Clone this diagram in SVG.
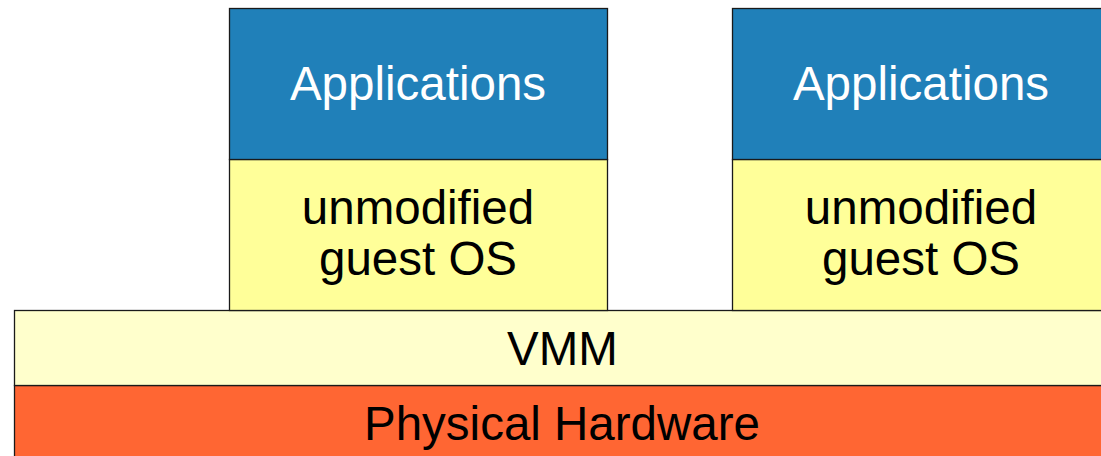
<svg xmlns="http://www.w3.org/2000/svg" width="1101" height="456" viewBox="0 0 1101 456">
<style>
.box{stroke:#1a1a1a;stroke-width:1.3}
.app{fill:#2080b9}
.os{fill:#ffff99}
.vmm{fill:#ffffcc}
.hw{fill:#ff6633}
text{font-family:"Liberation Sans",Arial,sans-serif;font-size:47.5px;text-anchor:middle}
.w{fill:#ffffff}
.k{fill:#000000}
</style>
<rect width="1101" height="456" fill="#ffffff"/>
<g id="hw">
<rect class="box hw" x="14.5" y="385.5" width="1100" height="90"/>
<text class="k" x="562" y="440">Physical Hardware</text>
</g>
<g id="vmm">
<rect class="box vmm" x="14.5" y="310.5" width="1100" height="75"/>
<text class="k" x="562.5" y="364.5">VMM</text>
</g>
<g id="os1">
<rect class="box os" x="229.5" y="159.5" width="378" height="151"/>
<text class="k" x="418" y="223.5">unmodified</text>
<text class="k" x="418" y="275">guest OS</text>
</g>
<g id="app1">
<rect class="box app" x="229.5" y="8.5" width="378" height="151"/>
<text class="w" x="418" y="100">Applications</text>
</g>
<g id="os2">
<rect class="box os" x="732.5" y="159.5" width="378" height="151"/>
<text class="k" x="921" y="223.5">unmodified</text>
<text class="k" x="921" y="275">guest OS</text>
</g>
<g id="app2">
<rect class="box app" x="732.5" y="8.5" width="378" height="151"/>
<text class="w" x="921" y="100">Applications</text>
</g>
<g id="connectors"></g>
</svg>
